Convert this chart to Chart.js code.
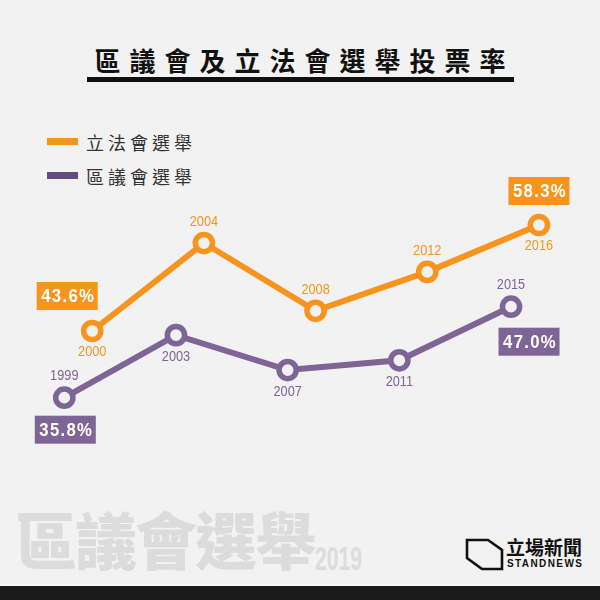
<!DOCTYPE html>
<html>
<head>
<meta charset="utf-8">
<script src="https://cdn.jsdelivr.net/npm/chart.js@4"></script>
<style>
  html, body { margin:0; padding:0; }
  body { width:600px; height:600px; background:#f2f2f2; position:relative; overflow:hidden;
         font-family:"Noto Sans CJK TC","Noto Sans CJK SC",sans-serif; }
  #title { position:absolute; left:0; width:600px; top:46px; text-align:center;
           font-size:26px; line-height:28px; font-weight:700; color:#111; letter-spacing:9px; padding-left:9px; box-sizing:border-box; }
  #rule { position:absolute; left:87px; width:427px; top:77px; height:5px; background:#111; }
  .leg { position:absolute; left:47px; height:20px; }
  .leg .sw { position:absolute; left:0; top:6px; width:31px; height:7px; }
  .leg .tx { position:absolute; left:39px; top:0; font-size:18px; line-height:20px; color:#333; letter-spacing:4px; white-space:nowrap; }
  #wm { position:absolute; left:15px; top:503px; font-size:62px; line-height:70px; font-weight:900; color:#dcdcdc; letter-spacing:-2px; white-space:nowrap; }
  #wmYear { position:absolute; left:315px; top:541px; font-family:"Liberation Sans",Arial,sans-serif;
            font-size:33px; line-height:36px; font-weight:700; color:#dcdcdc; transform:scaleX(0.64); transform-origin:left top; }
  #logo { position:absolute; left:465px; top:538px; }
  #logoCn { position:absolute; left:506px; top:535px; font-size:19px; line-height:24px; font-weight:700; color:#111; white-space:nowrap; }
  #logoEn { position:absolute; left:507px; top:558px; font-family:"Liberation Sans",Arial,sans-serif; font-size:10px; line-height:12px;
            font-weight:700; color:#111; letter-spacing:1.4px; white-space:nowrap; }
  #barLine { position:absolute; left:0; top:584px; width:600px; height:2px; background:#fafafa; }
  #bar { position:absolute; left:0; top:586px; width:600px; height:14px; background:#1c1c1c; }
  #chartWrap { position:absolute; left:0; top:0; width:600px; height:600px; }
</style>
</head>
<body>
<div id="title">區議會及立法會選舉投票率</div>
<div id="rule"></div>
<div id="legend"></div>
<div id="wm">區議會選舉</div>
<div id="wmYear">2019</div>
<svg id="logo" width="40" height="34" viewBox="0 0 40 34">
  <polygon points="2,2 23,2 37,12 37,31 17,31 2,20" fill="none" stroke="#111" stroke-width="2.6" stroke-linejoin="miter"/>
</svg>
<div id="logoCn">立場新聞</div>
<div id="logoEn">STANDNEWS</div>
<div id="barLine"></div>
<div id="bar"></div>
<div id="chartWrap"><canvas id="c" width="600" height="600"></canvas></div>
<script>
// ---- data ----
const seriesNames = ["立法會選舉", "區議會選舉"];
const legcoYears  = [2000, 2004, 2008, 2012, 2016];
const legcoTurnout = [43.6, 55.8, 46.4, 51.8, 58.3];
const dcYears     = [1999, 2003, 2007, 2011, 2015];
const dcTurnout   = [35.8, 43.5, 39.2, 40.4, 47.0];

// ---- style ----
const ORANGE = "#f7941d";
const PURPLE = "#7e6595";
const PURPLE_SW = "#624b7f";
const BG = "#f2f2f2";
const NUM_FONT = '"Liberation Sans", Arial, sans-serif';

// legend
const legendEl = document.getElementById("legend");
[[seriesNames[0], ORANGE, 132], [seriesNames[1], PURPLE_SW, 166]].forEach(([name, col, top]) => {
  const d = document.createElement("div");
  d.className = "leg"; d.style.top = top + "px";
  d.innerHTML = '<div class="sw" style="background:' + col + '"></div><div class="tx">' + name + '</div>';
  legendEl.appendChild(d);
});

const toPts = (xs, ys) => xs.map((x, i) => ({ x: x, y: ys[i] }));

// label placement (style): side of year label, offset of value box
const labelStyle = [
  { sides: ["below","above","above","above","below"], yearOff: 21,
    boxes: { 0: [-25, -35], 4: [0, -34] } },
  { sides: ["above","below","below","below","above"], yearOff: 22,
    boxes: { 0: [1, 32], 4: [18, 35] } }
];

function condensedText(ctx, txt, x, y, sx) {
  ctx.save();
  ctx.translate(x, y);
  ctx.scale(sx, 1);
  ctx.fillText(txt, 0, 0);
  ctx.restore();
}

const labelPlugin = {
  id: "pointLabels",
  afterDatasetsDraw(chart) {
    const ctx = chart.ctx;
    chart.data.datasets.forEach((ds, di) => {
      const meta = chart.getDatasetMeta(di);
      const st = labelStyle[di];
      meta.data.forEach((pt, i) => {
        const raw = ds.data[i];
        ctx.save();
        // year label
        ctx.font = '15px ' + NUM_FONT;
        ctx.fillStyle = ds.borderColor;
        ctx.textAlign = "center";
        ctx.textBaseline = "middle";
        const dy = st.sides[i] === "above" ? -st.yearOff : st.yearOff;
        condensedText(ctx, String(raw.x), pt.x, pt.y + dy, 0.85);
        // value box
        if (st.boxes[i]) {
          const [ox, oy] = st.boxes[i];
          const cx = pt.x + ox, cy = pt.y + oy;
          const txt = raw.y.toFixed(1) + "%";
          ctx.font = 'bold 19px ' + NUM_FONT;
          ctx.letterSpacing = "1.5px";
          const w = ctx.measureText(txt).width * 0.88;
          const bw = w + 7, bh = 28;
          ctx.fillStyle = ds.borderColor;
          ctx.fillRect(cx - bw / 2, cy - bh / 2, bw, bh);
          ctx.fillStyle = "#ffffff";
          ctx.textAlign = "center";
          condensedText(ctx, txt, cx + 1, cy + 1, 0.88);
        }
        ctx.restore();
      });
    });
  }
};

new Chart(document.getElementById("c"), {
  type: "line",
  data: {
    datasets: [
      { label: seriesNames[0], data: toPts(legcoYears, legcoTurnout), yAxisID: "yL",
        borderColor: ORANGE, backgroundColor: BG, borderWidth: 6,
        pointRadius: 8.6, pointBorderWidth: 5.5, pointBackgroundColor: BG, pointBorderColor: ORANGE,
        tension: 0, clip: false },
      { label: seriesNames[1], data: toPts(dcYears, dcTurnout), yAxisID: "yD",
        borderColor: PURPLE, backgroundColor: BG, borderWidth: 6,
        pointRadius: 8.6, pointBorderWidth: 5.5, pointBackgroundColor: BG, pointBorderColor: PURPLE,
        tension: 0, clip: false }
    ]
  },
  options: {
    responsive: false,
    animation: false,
    devicePixelRatio: 1,
    layout: { padding: 0, autoPadding: false },
    plugins: { legend: { display: false }, tooltip: { enabled: false }, title: { display: false } },
    scales: {
      x: { type: "linear", display: false, min: 1996.697, max: 2018.187 },
      yL: { type: "linear", display: false, min: 6.3, max: 89.5 },
      yD: { type: "linear", display: false, min: 10.9, max: 84.75 }
    }
  },
  plugins: [labelPlugin]
});
</script>
</body>
</html>
